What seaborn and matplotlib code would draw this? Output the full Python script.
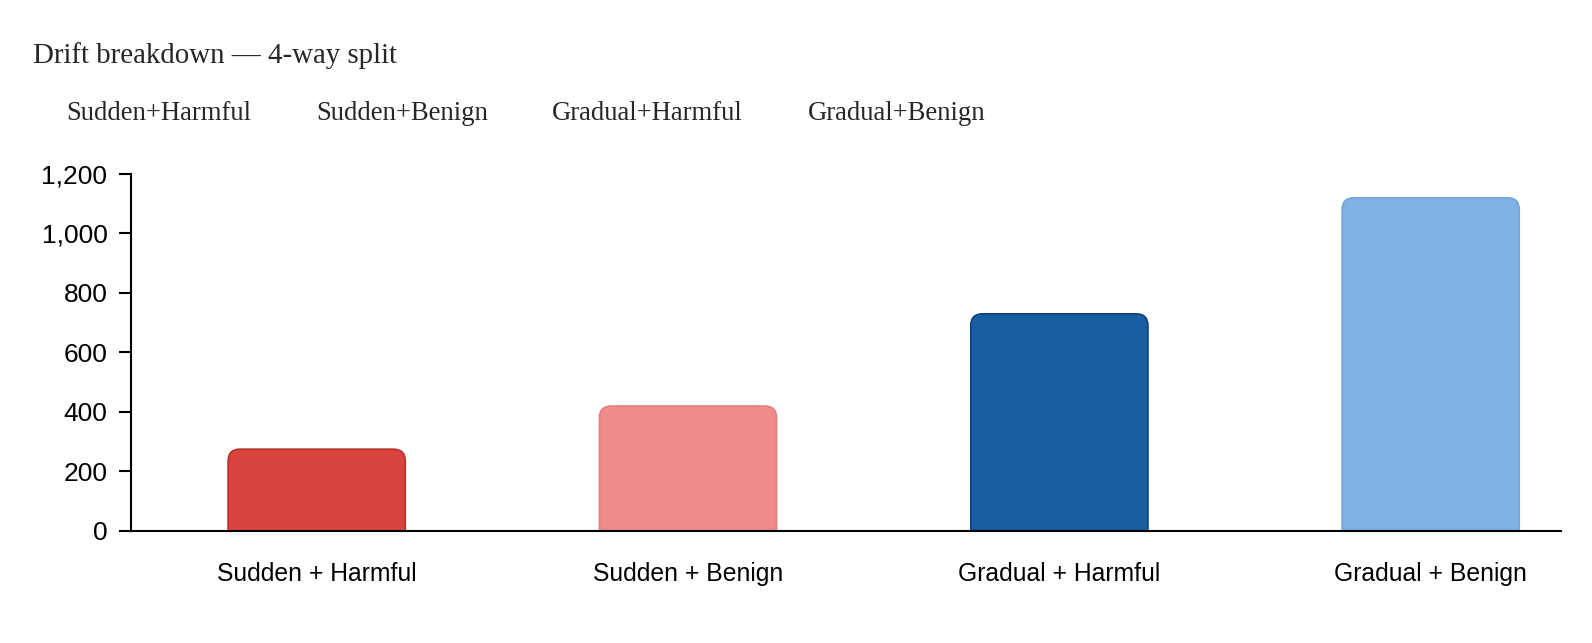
import seaborn as sns, matplotlib.pyplot as plt, numpy as np
from matplotlib.patches import FancyBboxPatch
from matplotlib.ticker import FuncFormatter

categories = ["Sudden + Harmful", "Sudden + Benign", "Gradual + Harmful", "Gradual + Benign"]
legend_labels = ["Sudden+Harmful", "Sudden+Benign", "Gradual+Harmful", "Gradual+Benign"]
counts = [275, 420, 730, 1120]
bar_colors = ["#D9443F", "#EE8C8C", "#175EA3", "#80B1E5"]
edge_colors = ["#B8302C", "#E07F7F", "#0E3F75", "#74A5D8"]

sns.set_style("white")
plt.rcParams['font.family'] = ['Liberation Sans', 'DejaVu Sans']

fig = plt.figure(figsize=(15.92, 6.43), dpi=100)
ax = fig.add_axes([0.0823, 0.1742, 0.898, 0.5552])

sns.barplot(x=categories, y=counts, hue=categories, palette=bar_colors,
            legend=False, width=0.477, saturation=1, ax=ax)

ax.set_ylim(0, 1200)
ax.set_xlim(-0.5, 3.35)

# swap the square bars for rounded ones (bottom hidden below the axis)
for p, ec in zip(list(ax.patches), edge_colors):
    x0, w, h = p.get_x(), p.get_width(), p.get_height()
    fc = p.get_facecolor()
    p.remove()
    rb = FancyBboxPatch((x0, -60), w, h + 60,
                        boxstyle="round,pad=0,rounding_size=0.032",
                        mutation_aspect=1250, facecolor=fc, edgecolor=ec,
                        linewidth=1.2, clip_on=True)
    ax.add_patch(rb)

ax.yaxis.set_major_formatter(FuncFormatter(lambda v, _: f"{int(v):,}"))
ax.set_yticks(np.arange(0, 1201, 200))
ax.tick_params(axis='y', which='major', left=True, length=9, width=1.5,
               labelsize=19, pad=8, color='black', labelcolor='black')
ax.tick_params(axis='x', length=0, labelsize=17.8, pad=22, labelcolor='black')

for s in ['top', 'right']:
    ax.spines[s].set_visible(False)
ax.spines['left'].set_color('black')
ax.spines['bottom'].set_color('black')
ax.spines['left'].set_linewidth(1.5)
ax.spines['bottom'].set_linewidth(1.5)
ax.set_xlabel("")
ax.set_ylabel("")

fig.text(33 / 1592, 1 - 56 / 643, "Drift breakdown \u2014 4-way split",
         fontsize=20.8, family='Liberation Serif', va='center', ha='left')
for lx, lab in zip([66, 316, 552, 808], legend_labels):
    fig.text(lx / 1592, 1 - 114 / 643, lab, fontsize=19.2,
             family='Liberation Serif', va='center', ha='left')

plt.savefig('out.png', dpi=100)
